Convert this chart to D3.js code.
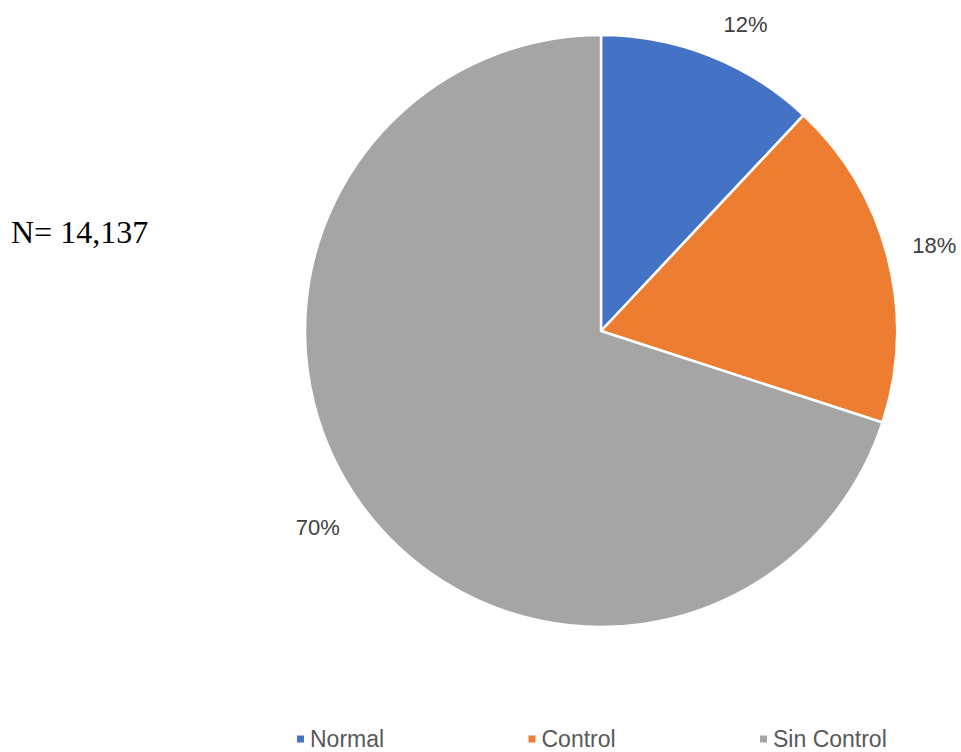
<!DOCTYPE html>
<html>
<head>
<meta charset="utf-8">
<script src="https://cdn.jsdelivr.net/npm/d3@7"></script>
<style>
  html, body { margin: 0; padding: 0; background: #fff; }
  svg { display: block; }
</style>
</head>
<body>
<svg id="chart" width="961" height="752"></svg>
<script>
// Share of patients by control status
const categories = ["Normal", "Control", "Sin Control"];
const values = [12, 18, 70];
const colors = ["#4472C4", "#ED7D31", "#A5A5A5"];
const totalLabel = "N= 14,137";

const svg = d3.select("#chart");
const cx = 601, cy = 331, radius = 296, labelRadius = 344;

const pie = d3.pie().sort(null).value(d => d.value);
const arcs = pie(categories.map((c, i) => ({ name: c, value: values[i], color: colors[i] })));
const arc = d3.arc().innerRadius(0).outerRadius(radius);
const labelArc = d3.arc().innerRadius(labelRadius).outerRadius(labelRadius);

const g = svg.append("g").attr("transform", `translate(${cx},${cy})`);

g.selectAll("path.slice")
  .data(arcs)
  .join("path")
  .attr("class", "slice")
  .attr("d", arc)
  .attr("fill", d => d.data.color)
  .attr("stroke", "#fff")
  .attr("stroke-width", 2.5)
  .attr("stroke-linejoin", "round");

const total = d3.sum(values);
const fmt = d => Math.round(d.value / total * 100) + "%";

g.selectAll("text.pct")
  .data(arcs)
  .join("text")
  .attr("class", "pct")
  .attr("x", d => {
    const [x, y] = labelArc.centroid(d);
    // labels near the top edge are pushed outward along x
    return y < -300 ? x + 18 : x - (x < 0 ? 5 : 0);
  })
  .attr("y", d => {
    const y = labelArc.centroid(d)[1];
    return y < 0 ? Math.max(y, -307) : y - 6;
  })
  .attr("text-anchor", "middle")
  .attr("dominant-baseline", "central")
  .attr("font-family", "Liberation Sans, Arial, sans-serif")
  .attr("font-size", 22)
  .attr("fill", "#404040")
  .text(d => fmt(d.data));

svg.append("text")
  .attr("x", 11)
  .attr("y", 243)
  .attr("font-family", "Liberation Serif, Times New Roman, serif")
  .attr("font-size", 32)
  .attr("fill", "#000")
  .text(totalLabel);

// Legend
const legendX = d3.scalePoint().domain(categories).range([297, 760]);
const legend = svg.append("g");
const items = legend.selectAll("g.item")
  .data(arcs)
  .join("g")
  .attr("class", "item")
  .attr("transform", d => `translate(${legendX(d.data.name)},739)`);

items.append("rect")
  .attr("x", 0).attr("y", -3.5)
  .attr("width", 7).attr("height", 7)
  .attr("fill", d => d.data.color);

items.append("text")
  .attr("x", 13)
  .attr("y", 8)
  .attr("font-family", "Liberation Sans, Arial, sans-serif")
  .attr("font-size", 23)
  .attr("fill", "#595959")
  .text(d => d.data.name);
</script>
</body>
</html>
